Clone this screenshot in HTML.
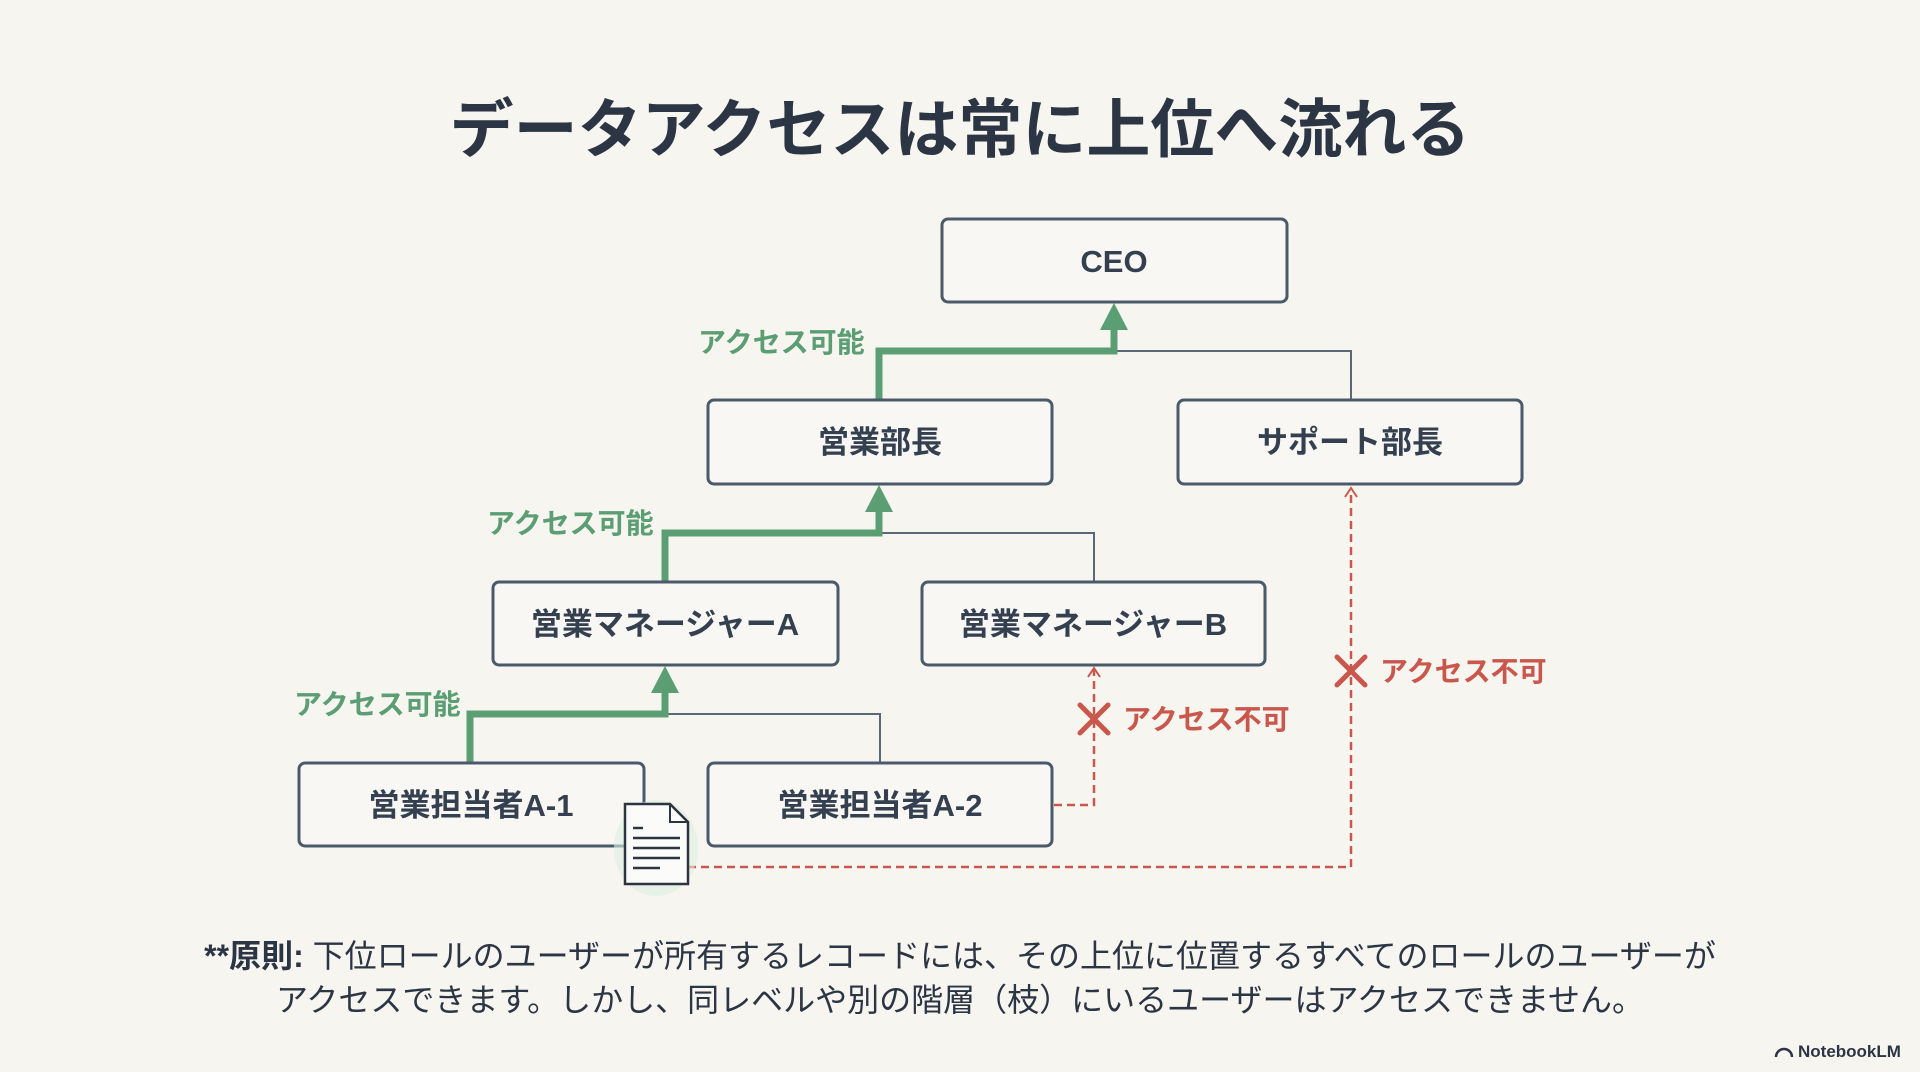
<!DOCTYPE html>
<html><head><meta charset="utf-8"><style>
html,body{margin:0;padding:0;background:#f7f5f0;}
svg{display:block}
text{font-family:"Liberation Sans","Noto Sans CJK JP",sans-serif;}
</style></head><body>
<svg width="1920" height="1072" viewBox="0 0 1920 1072" xmlns="http://www.w3.org/2000/svg">
<rect width="1920" height="1072" fill="#f7f5f0"/>
<text x="960" y="152" text-anchor="middle" font-size="64" font-weight="bold" fill="#2b3544">データアクセスは常に上位へ流れる</text>

<g stroke="#5a6878" stroke-width="2" fill="none">
<polyline points="1114,351 1351,351 1351,400"/>
<polyline points="879,533 1094,533 1094,582"/>
<polyline points="665,714 880,714 880,763"/>
</g>
<g stroke="#5c9e74" stroke-width="7" fill="none">
<polyline points="879,400 879,351 1114,351 1114,325"/>
<polyline points="665,582 665,533 879,533 879,507"/>
<polyline points="470,763 470,714 665,714 665,690"/>
</g>
<g fill="#5c9e74">
<polygon points="1114,303 1100,330 1128,330"/>
<polygon points="879,485 865,512 893,512"/>
<polygon points="665,666 651,693 679,693"/>
</g>
<g font-size="28" font-weight="bold" fill="#5c9e74">
<text x="698" y="352">アクセス可能</text>
<text x="487" y="533">アクセス可能</text>
<text x="294" y="714">アクセス可能</text>
</g>

<g stroke="#c9574c" stroke-width="2.5" fill="none" stroke-dasharray="8,5">
<polyline points="1054,805 1094,805 1094,670"/>
<polyline points="688,867 1351,867 1351,490"/>
</g>
<g stroke="#c9574c" stroke-width="2" fill="none">
<polyline points="1088,677 1094,668 1100,677"/>
<polyline points="1345,497 1351,488 1357,497"/>
</g>
<g stroke="#c9574c" stroke-width="5" stroke-linecap="round">
<line x1="1080" y1="705" x2="1108" y2="733"/><line x1="1108" y1="705" x2="1080" y2="733"/>
<line x1="1337" y1="657" x2="1365" y2="685"/><line x1="1365" y1="657" x2="1337" y2="685"/>
</g>
<g font-size="28" font-weight="bold" fill="#c9574c">
<text x="1123" y="729">アクセス不可</text>
<text x="1380" y="681">アクセス不可</text>
</g>

<g fill="#f8f7f3" stroke="#4a5a6b" stroke-width="3">
<rect x="942" y="219" width="345" height="83" rx="6"/>
<rect x="708" y="400" width="344" height="84" rx="6"/>
<rect x="1178" y="400" width="344" height="84" rx="6"/>
<rect x="493" y="582" width="345" height="83" rx="6"/>
<rect x="922" y="582" width="343" height="83" rx="6"/>
<rect x="299" y="763" width="345" height="83" rx="6"/>
<rect x="708" y="763" width="344" height="83" rx="6"/>
</g>
<g font-size="31" font-weight="bold" fill="#34404f" text-anchor="middle">
<text x="1114" y="272">CEO</text>
<text x="880" y="453">営業部長</text>
<text x="1350" y="453">サポート部長</text>
<text x="665" y="635">営業マネージャーA</text>
<text x="1093" y="635">営業マネージャーB</text>
<text x="471" y="816">営業担当者A-1</text>
<text x="880" y="816">営業担当者A-2</text>
</g>

<ellipse cx="656" cy="848" rx="42" ry="48" fill="#dcefe2" opacity="0.6"/>
<path d="M625,804 H670 L688,822 V884 H625 Z" fill="#fbfbf9" stroke="#2d3540" stroke-width="2.5"/>
<path d="M670,804 V822 H688" fill="none" stroke="#2d3540" stroke-width="2"/>
<g stroke="#2d3540" stroke-width="2.5">
<line x1="633" y1="828" x2="643" y2="828"/>
<line x1="633" y1="838" x2="680" y2="838"/>
<line x1="633" y1="848" x2="680" y2="848"/>
<line x1="633" y1="858" x2="680" y2="858"/>
<line x1="633" y1="868" x2="660" y2="868"/>
</g>

<g font-size="32" fill="#2b3544" text-anchor="middle">
<text x="960" y="967"><tspan font-weight="bold">**原則:</tspan> 下位ロールのユーザーが所有するレコードには、その上位に位置するすべてのロールのユーザーが</text>
<text x="960" y="1011">アクセスできます。しかし、同レベルや別の階層（枝）にいるユーザーはアクセスできません。</text>
</g>
<text x="1798" y="1057" font-size="17" font-weight="bold" fill="#2b3544">NotebookLM</text>
<path d="M1776,1057 a7,7 0 0 1 16,0" fill="none" stroke="#2b3544" stroke-width="2.5"/>
</svg>
</body></html>
